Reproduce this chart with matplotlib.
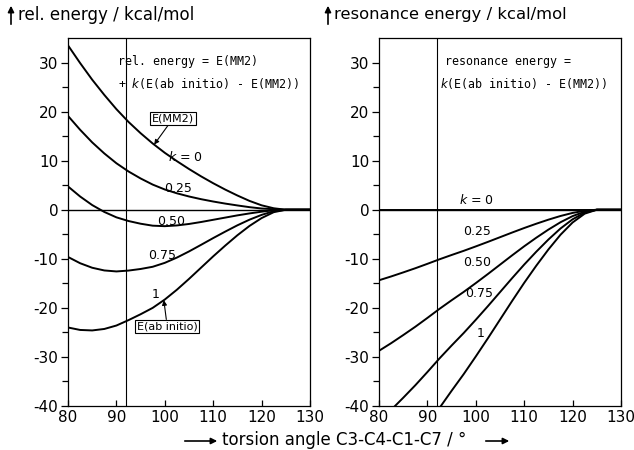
import numpy as np
import matplotlib
matplotlib.use("Agg")
import matplotlib.pyplot as plt
from matplotlib.patches import FancyArrowPatch

plt.rcParams["axes.unicode_minus"] = False
plt.rcParams["font.family"] = ["DejaVu Sans"]

# torsion angle C3-C4-C1-C7 in degrees
angle = [80, 82.5, 85, 87.5, 90, 92.5, 95, 97.5, 100, 102.5, 105, 107.5,
         110, 112.5, 115, 117.5, 120, 122.5, 125, 130]
# force-field energy E(MM2), kcal/mol
e_mm2 = [33.5, 29.9, 26.5, 23.4, 20.5, 17.9, 15.6, 13.5, 11.6, 9.9, 8.3, 6.8,
         5.4, 4.1, 2.9, 1.8, 0.9, 0.3, 0.0, 0.0]
# ab initio energy E(ab initio), kcal/mol
e_ab = [-24.0, -24.5, -24.6, -24.3, -23.6, -22.5, -21.3, -20.0, -18.3, -16.3,
        -14.1, -11.8, -9.5, -7.3, -5.2, -3.3, -1.7, -0.5, 0.0, 0.0]
k_values = [0, 0.25, 0.5, 0.75, 1]
k_labels = ["$k$ = 0", "0.25", "0.50", "0.75", "1"]
x_ticks = [80, 90, 100, 110, 120, 130]
y_ticks = [-40, -30, -20, -10, 0, 10, 20, 30]
reference_angle = 92

a = np.array(angle)
mm2 = np.array(e_mm2)
ab = np.array(e_ab)

W, H = 634, 450
fig = plt.figure(figsize=(W / 100, H / 100), dpi=100)
axL = fig.add_axes([68 / W, 44 / H, 242 / W, 368 / H])
axR = fig.add_axes([379 / W, 44 / H, 242 / W, 368 / H])

for ax in (axL, axR):
    ax.set_xlim(80, 130)
    ax.set_ylim(-40, 35)
    ax.set_xticks(x_ticks)
    ax.set_yticks(y_ticks)
    ax.set_yticks(np.arange(-35, 30, 10), minor=True)
    ax.tick_params(axis="y", which="major", direction="out", length=5,
                   width=0.9, labelsize=11, pad=2)
    ax.tick_params(axis="y", which="minor", direction="out", length=4, width=0.9)
    ax.tick_params(axis="x", which="major", direction="in", length=4,
                   width=0.9, labelsize=11, pad=3)
    for s in ax.spines.values():
        s.set_linewidth(0.9)
    ax.axvline(reference_angle, color="black", lw=0.8)
    ax.axhline(0, color="black", lw=1.0)

# relative energy = E(MM2) + k (E(ab initio) - E(MM2))
for k in k_values:
    axL.plot(a, mm2 + k * (ab - mm2), color="black", lw=1.4)

# resonance energy = k (E(ab initio) - E(MM2))
for k in k_values:
    axR.plot(a, k * (ab - mm2), color="black", lw=1.4)

lbl = dict(ha="center", va="center", fontsize=9)
left_pos = [(104.2, 10.8), (102.7, 4.3), (101.3, -2.4), (99.4, -9.4), (98.0, -17.3)]
for (x, y), t in zip(left_pos, k_labels):
    axL.text(x, y, t, **lbl)
right_pos = [(100.2, 2.0), (100.3, -4.5), (100.2, -10.8), (100.6, -17.0), (100.9, -25.2)]
for (x, y), t in zip(right_pos, k_labels):
    axR.text(x, y, t, **lbl)

mono = dict(family="DejaVu Sans Mono", fontsize=8.4, ha="left", va="center")
axL.text(90.3, 30.2, "rel. energy = E(MM2)", **mono)
axL.text(90.3, 25.8, "+ $k$(E(ab initio) - E(MM2))", **mono)
axR.text(93.6, 30.2, "resonance energy =", **mono)
axR.text(92.6, 25.8, "$k$(E(ab initio) - E(MM2))", **mono)

box = dict(boxstyle="square,pad=0.15", fc="white", ec="black", lw=0.8)
arrow = dict(arrowstyle="-|>", lw=0.8, color="black", mutation_scale=7,
             shrinkA=0, shrinkB=0)
tip_x = 97.8
axL.annotate("E(MM2)", xy=(tip_x, np.interp(tip_x, a, mm2)), xytext=(101.7, 18.6),
             ha="center", va="center", fontsize=8, bbox=box, arrowprops=arrow)
tip_x = 99.8
axL.annotate("E(ab initio)", xy=(tip_x, np.interp(tip_x, a, ab)), xytext=(100.5, -23.8),
             ha="center", va="center", fontsize=8, bbox=box, arrowprops=arrow)

# axis titles with upward arrows
fig.text(18 / W, 1 - 15 / H, "rel. energy / kcal/mol", fontsize=12, ha="left", va="center")
fig.text(334 / W, 1 - 15 / H, "resonance energy / kcal/mol", fontsize=11.8, ha="left", va="center")
for xp in (11, 328):
    fig.add_artist(FancyArrowPatch((xp / W, 1 - 27 / H), (xp / W, 1 - 3 / H),
                                   transform=fig.transFigure, arrowstyle="-|>",
                                   mutation_scale=9, lw=1.2, color="black"))

fig.text(222 / W, 1 - 440 / H, "torsion angle C3-C4-C1-C7 / °", fontsize=12,
         ha="left", va="center")
for x0, x1 in ((182, 220), (483, 512)):
    fig.add_artist(FancyArrowPatch((x0 / W, 1 - 441 / H), (x1 / W, 1 - 441 / H),
                                   transform=fig.transFigure, arrowstyle="-|>",
                                   mutation_scale=9, lw=1.2, color="black"))

fig.savefig("out.png", dpi=100, facecolor="white")
